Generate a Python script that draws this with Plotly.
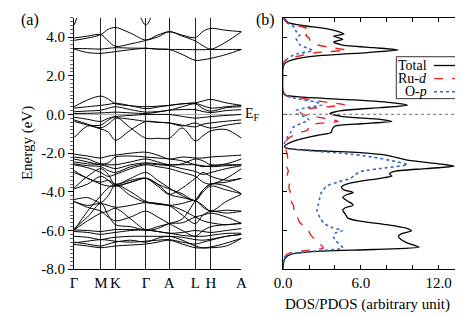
import plotly.graph_objects as go

# ---------------- data ----------------
k_labels = ["Γ", "M", "K", "Γ", "A", "L", "H", "A"]
k_ticks = [0, 27.7, 42.7, 74.3, 98.3, 125.3, 141.3, 173]
# sample positions along the path (high-symmetry points and segment middles)
k_samples = [0, 13.9, 27.7, 35.2, 42.7, 58.5, 74.3, 86.3, 98.3, 111.8, 125.3, 133.3, 141.3, 157.2, 173]

conduction_bands = [
    [4.62, 6.2, 7.0, 7.0, 7.0, 6.2, 4.62, 6.0, 7.0, 7.0, 7.0, 7.0, 7.0, 7.0, 7.0],
    [3.83, 3.95, 4.13, 4.40, 4.50, 4.20, 3.85, 4.10, 4.28, 4.10, 3.97, 4.30, 4.45, 4.35, 4.28],
    [3.95, 4.05, 4.13, 3.80, 3.52, 3.65, 3.83, 4.00, 4.28, 4.05, 3.80, 3.55, 3.38, 3.75, 4.28],
    [3.41, 3.40, 3.38, 3.42, 3.45, 3.43, 3.42, 3.38, 3.36, 3.36, 3.35, 3.35, 3.36, 3.36, 3.36],
    [3.38, 3.20, 3.16, 3.20, 3.25, 3.35, 3.42, 3.38, 3.36, 3.10, 2.80, 2.83, 2.90, 3.10, 3.36],
]

t2g_bands = [
    [0.40, 0.75, 0.95, 0.80, 0.56, 0.45, 0.40, 0.43, 0.47, 0.55, 0.60, 0.70, 0.78, 0.60, 0.47],
    [0.33, 0.40, 0.47, 0.52, 0.58, 0.45, 0.30, 0.38, 0.47, 0.55, 0.58, 0.45, 0.33, 0.40, 0.47],
    [0.14, 0.18, 0.22, 0.32, 0.40, 0.25, 0.12, 0.15, 0.22, 0.40, 0.55, 0.30, 0.17, 0.35, 0.40],
    [0.05, 0.06, 0.08, 0.10, 0.12, 0.08, 0.05, 0.12, 0.22, 0.25, 0.25, 0.15, 0.10, 0.20, 0.25],
    [-0.14, -0.25, -0.36, -0.20, -0.11, -0.05, 0.00, 0.00, 0.00, -0.10, -0.19, -0.15, -0.11, -0.05, 0.00],
    [-0.28, -0.50, -0.69, -0.50, -0.20, -0.25, -0.36, -0.40, -0.44, -0.55, -0.64, -0.50, -0.44, -0.35, -0.28],
    [-0.36, -0.55, -0.75, -0.90, -1.33, -0.80, -0.36, -0.40, -0.44, -0.60, -0.44, -0.60, -0.70, -0.55, -0.44],
    [-1.20, -0.60, -0.55, -0.30, -0.12, -0.70, -1.23, -1.23, -1.23, -0.70, -1.37, -1.10, -0.85, -0.78, -1.23],
]

valence_bands = [
    [-2.05, -2.15, -2.25, -2.15, -2.10, -2.00, -1.95, -2.10, -2.30, -2.20, -2.25, -2.25, -2.20, -2.15, -2.10],
    [-2.20, -2.30, -2.55, -2.50, -2.20, -2.15, -2.20, -2.25, -2.30, -2.40, -2.60, -2.70, -2.65, -2.55, -2.30],
    [-2.30, -2.45, -2.60, -2.60, -2.60, -2.45, -2.30, -2.45, -2.60, -2.55, -2.30, -2.40, -2.60, -2.60, -2.60],
    [-2.45, -2.55, -2.60, -2.70, -2.80, -2.60, -2.50, -2.55, -2.60, -2.60, -2.60, -2.65, -2.70, -2.65, -2.60],
    [-2.55, -2.65, -2.70, -2.90, -3.00, -2.70, -2.55, -2.60, -2.65, -2.80, -2.95, -3.10, -3.00, -2.80, -2.65],
    [-2.60, -2.75, -3.00, -3.20, -3.10, -2.80, -2.60, -2.70, -2.80, -3.00, -3.20, -3.50, -3.60, -3.30, -2.80],
    [-3.80, -3.20, -2.80, -3.10, -3.63, -3.30, -3.00, -3.40, -3.80, -4.20, -4.45, -3.90, -3.60, -3.50, -3.30],
    [-3.85, -3.60, -3.20, -3.40, -3.70, -3.50, -3.30, -3.60, -3.85, -4.10, -4.45, -4.00, -3.70, -3.90, -4.10],
    [-4.40, -4.30, -4.55, -4.20, -3.65, -4.00, -4.50, -4.60, -4.70, -4.60, -4.45, -4.80, -5.00, -4.95, -5.00],
    [-4.50, -4.70, -4.60, -4.70, -4.80, -4.70, -4.55, -4.65, -4.70, -4.95, -5.30, -5.50, -5.60, -5.70, -5.60],
    [-5.90, -5.30, -4.60, -5.20, -5.70, -5.80, -5.97, -5.80, -5.64, -5.40, -4.45, -3.90, -3.60, -3.70, -4.10],
    [-5.97, -5.50, -5.10, -5.00, -4.85, -5.40, -5.97, -5.90, -5.64, -5.60, -5.30, -5.20, -5.10, -5.30, -5.64],
    [-5.97, -6.00, -6.05, -6.00, -5.95, -5.95, -5.97, -6.05, -6.14, -6.10, -6.00, -6.05, -6.10, -6.00, -5.90],
    [-6.05, -6.10, -6.20, -6.15, -6.10, -6.00, -5.97, -6.05, -6.14, -6.25, -6.30, -6.30, -6.25, -6.15, -6.14],
    [-6.30, -6.35, -6.47, -6.40, -6.35, -6.30, -6.30, -6.30, -6.30, -6.35, -6.47, -6.50, -6.45, -6.30, -6.20],
    [-6.64, -6.55, -6.47, -6.50, -6.55, -6.60, -6.55, -6.50, -6.47, -6.60, -6.70, -6.60, -6.50, -6.30, -6.20],
    [-6.72, -6.80, -6.89, -6.85, -6.80, -6.75, -6.70, -6.60, -6.50, -6.70, -6.89, -6.90, -6.85, -6.65, -6.40],
    [-6.60, -6.70, -6.80, -6.70, -6.60, -6.50, -6.60, -6.40, -6.30, -6.50, -6.80, -6.90, -6.89, -6.80, -6.40],
    [-6.00, -5.00, -4.20, -3.80, -3.63, -4.20, -4.55, -4.60, -4.71, -5.20, -5.64, -5.20, -5.00, -5.10, -5.00],
    [-3.00, -3.30, -3.60, -3.70, -3.70, -3.50, -3.29, -3.60, -4.13, -4.30, -4.46, -4.70, -5.00, -4.50, -4.13],
    [-2.90, -3.30, -3.50, -3.40, -3.60, -3.40, -3.30, -3.70, -4.13, -3.80, -3.30, -3.00, -3.20, -3.40, -3.30],
    [-4.50, -4.80, -5.00, -5.30, -5.50, -5.30, -5.00, -5.30, -5.64, -6.00, -6.30, -6.00, -5.80, -5.70, -5.64],
]

energy_ticks = [-8, -6, -4, -2, 0, 2, 4]
energy_ticktext = ["-8.0", "-6.0", "-4.0", "-2.0", "0.0", "2.0", "4.0"]

total_E = [5.0, 4.75, 4.6, 4.45, 4.3, 4.16, 4.05, 3.88, 3.75, 3.6, 3.45, 3.33, 3.2, 3.05, 2.9, 2.75, 2.6, 2.4,
           1.2, 1.0, 0.9, 0.75, 0.6, 0.48, 0.35, 0.2, 0.05, -0.1, -0.25, -0.36, -0.48, -0.6, -0.75, -0.93, -1.1,
           -1.3, -1.5, -1.65, -1.75, -1.85, -2.0, -2.15, -2.35, -2.55, -2.67, -2.8, -2.95, -3.07, -3.18, -3.3,
           -3.45, -3.6, -3.75, -3.9, -4.03, -4.15, -4.28, -4.45, -4.6, -4.7, -4.82, -4.95, -5.15, -5.36, -5.5,
           -5.7, -5.9, -6.02, -6.15, -6.3, -6.47, -6.65, -6.86, -6.98, -7.1, -7.23, -7.4, -7.6, -8.0]
total_D = [0.05, 0.4, 1.5, 3.2, 4.2, 4.7, 3.9, 4.6, 3.9, 4.5, 7.0, 8.9, 6.5, 3.0, 1.2, 0.4, 0.1, 0.0,
           0.0, 0.2, 1.5, 5.5, 8.5, 9.6, 7.5, 4.5, 3.6, 4.5, 7.5, 8.4, 6.0, 4.0, 3.8, 3.7, 2.5,
           1.2, 0.4, 0.1, 0.3, 2.0, 6.5, 8.3, 9.5, 12.0, 13.2, 11.0, 8.5, 8.2, 8.4, 7.5,
           6.0, 4.9, 4.5, 4.7, 5.4, 4.9, 4.6, 4.9, 5.3, 5.4, 4.8, 4.6, 4.8, 5.0, 5.8,
           8.0, 9.6, 9.9, 9.2, 8.9, 9.1, 9.6, 10.5, 7.0, 2.0, 0.6, 0.2, 0.05, 0.0]

rud_E = [5.0, 4.75, 4.55, 4.4, 4.25, 4.1, 3.95, 3.8, 3.6, 3.45, 3.33, 3.2, 3.05, 2.9, 2.75, 2.5,
         1.1, 0.95, 0.8, 0.65, 0.5, 0.4, 0.3, 0.15, 0.0, -0.15, -0.36, -0.48, -0.6, -0.8, -0.95, -1.15,
         -1.35, -1.6, -1.8, -2.0, -2.3, -2.6, -2.9, -3.2, -3.5, -3.8, -4.1, -4.4, -4.7, -5.0, -5.3,
         -5.6, -5.9, -6.2, -6.5, -6.9, -7.05, -7.2, -7.4, -8.0]
rud_D = [0.0, 0.3, 1.4, 2.0, 2.1, 1.75, 2.0, 2.1, 2.6, 3.8, 4.9, 2.6, 1.4, 0.5, 0.1, 0.0,
         0.0, 0.3, 1.8, 3.2, 4.75, 3.5, 2.0, 1.3, 1.5, 2.8, 4.25, 2.5, 2.0, 1.9, 1.2, 0.6,
         0.25, 0.1, 0.2, 0.3, 0.35, 0.2, 0.4, 0.3, 0.5, 0.45, 0.6, 0.55, 0.8, 0.85, 1.1,
         1.3, 1.9, 2.1, 2.5, 3.1, 1.5, 0.4, 0.1, 0.0]

op_E = [5.0, 4.75, 4.5, 4.3, 4.1, 3.95, 3.8, 3.6, 3.4, 3.3, 3.15, 3.0, 2.8, 2.6,
        1.1, 0.95, 0.8, 0.65, 0.5, 0.35, 0.2, 0.05, -0.1, -0.28, -0.45, -0.65, -0.9, -1.2, -1.5,
        -1.7, -1.85, -2.0, -2.2, -2.45, -2.6, -2.75, -2.95, -3.1, -3.3, -3.5, -3.69, -3.9, -4.1,
        -4.4, -4.7, -4.95, -5.2, -5.4, -5.65, -5.85, -6.0, -6.15, -6.35, -6.55, -6.9, -7.05, -7.2,
        -7.4, -8.0]
op_D = [0.0, 0.3, 0.9, 1.0, 1.3, 1.0, 1.1, 1.3, 2.0, 2.3, 1.2, 0.6, 0.2, 0.0,
        0.0, 0.3, 1.2, 2.5, 3.0, 1.8, 1.0, 1.0, 1.6, 2.0, 1.4, 0.8, 0.6, 0.3, 0.1,
        0.2, 1.5, 4.5, 6.9, 8.8, 9.6, 8.0, 6.0, 5.6, 5.2, 4.2, 3.4, 3.1, 2.9,
        2.8, 2.7, 2.6, 2.75, 2.9, 3.2, 3.8, 4.6, 4.0, 3.9, 4.1, 4.6, 2.8, 0.6,
        0.1, 0.0]

dos_ticks = [0, 6, 12]
dos_ticktext = ["0.0", "6.0", "12.0"]

# ---------------- figure ----------------
W, H = 463, 316
FONT = "Liberation Serif"
RED = "#e8231e"
BLUE = "#3467c4"

fig = go.Figure()

for band in conduction_bands + t2g_bands + valence_bands:
    fig.add_trace(go.Scatter(x=k_samples, y=band, mode="lines",
                             line=dict(color="black", width=1, shape="spline", smoothing=0.9),
                             showlegend=False, hoverinfo="skip", xaxis="x", yaxis="y"))

fig.add_trace(go.Scatter(x=total_D, y=total_E, mode="lines", name="Total",
                         line=dict(color="black", width=1.3, shape="spline", smoothing=0.6),
                         showlegend=False, xaxis="x2", yaxis="y2"))
fig.add_trace(go.Scatter(x=rud_D, y=rud_E, mode="lines", name="Ru-d",
                         line=dict(color=RED, width=1.4, dash="dash", shape="spline", smoothing=0.6),
                         showlegend=False, xaxis="x2", yaxis="y2"))
fig.add_trace(go.Scatter(x=op_D, y=op_E, mode="lines", name="O-p",
                         line=dict(color=BLUE, width=1.6, dash="dot", shape="spline", smoothing=0.6),
                         showlegend=False, xaxis="x2", yaxis="y2"))

px = lambda v: v / W
py = lambda v: 1 - v / H

ydom = [py(268), py(10)]

fig.update_layout(
    width=W, height=H, autosize=False,
    margin=dict(l=0, r=0, t=0, b=0),
    paper_bgcolor="white", plot_bgcolor="white",
    font=dict(family=FONT, size=15, color="black"),
    xaxis=dict(domain=[px(59), px(232)], range=[0, 173], anchor="y",
               tickmode="array", tickvals=k_ticks, ticktext=k_labels,
               ticks="", showgrid=True, gridcolor="#222", gridwidth=1,
               showline=True, linecolor="black", linewidth=1, zeroline=False,
               tickfont=dict(family=FONT, size=15)),
    yaxis=dict(domain=ydom, range=[-8, 5], anchor="x",
               tickmode="array", tickvals=energy_ticks, ticktext=energy_ticktext,
               ticks="outside", ticklen=5, tickcolor="black",
               minor=dict(dtick=0.2, tick0=0, ticks="outside", ticklen=3, tickcolor="#666"),
               showline=True, linecolor="black", linewidth=1, showgrid=False,
               zeroline=True, zerolinecolor="#aaa", zerolinewidth=1.2,
               tickfont=dict(family=FONT, size=15)),
    xaxis2=dict(domain=[px(275), px(462.5)], range=[0, 14], anchor="y2",
                tickmode="array", tickvals=dos_ticks, ticktext=dos_ticktext,
                ticks="inside", ticklen=4, tickcolor="black", mirror="ticks",
                minor=dict(dtick=2, tick0=0, ticks="inside", ticklen=4, tickcolor="black"),
                showline=True, linecolor="black", linewidth=1, showgrid=False, zeroline=False,
                tickfont=dict(family=FONT, size=15)),
    yaxis2=dict(domain=ydom, range=[-8, 5], anchor="x2",
                tickmode="array", tickvals=energy_ticks, showticklabels=False,
                ticks="inside", ticklen=4, tickcolor="black", mirror="ticks",
                showline=True, linecolor="black", linewidth=1, showgrid=False, zeroline=False),
)

# Fermi level in DOS panel
fig.add_shape(type="line", xref="x2 domain", yref="y2", x0=0, x1=1, y0=0, y1=0,
              line=dict(color="#888", width=1.3, dash="dot"))

# legend box (text then sample line)
fig.add_shape(type="rect", xref="paper", yref="paper",
              x0=px(392), x1=px(462.5), y0=py(93), y1=py(50),
              line=dict(color="black", width=0.8), fillcolor="white")
legend_rows = [("Total", 59, "black", "solid", 1.3),
               ("Ru-<i>d</i>", 72.5, RED, "dash", 1.4),
               ("O-<i>p</i>", 86, BLUE, "dot", 1.6)]
for txt, yy, col, dash, lw in legend_rows:
    fig.add_annotation(x=px(426), y=py(yy), xref="paper", yref="paper", text=txt,
                       showarrow=False, xanchor="right", yanchor="middle",
                       font=dict(family=FONT, size=14))
    fig.add_shape(type="line", xref="paper", yref="paper",
                  x0=px(431), x1=px(454), y0=py(yy), y1=py(yy),
                  line=dict(color=col, width=lw, dash=dash))

# text labels
fig.add_annotation(x=px(2), y=py(12), xref="paper", yref="paper", text="(a)",
                   showarrow=False, xanchor="left", yanchor="middle", font=dict(family=FONT, size=16))
fig.add_annotation(x=px(245), y=py(12), xref="paper", yref="paper", text="(b)",
                   showarrow=False, xanchor="left", yanchor="middle", font=dict(family=FONT, size=16))
fig.add_annotation(x=px(234), y=0, xref="paper", yref="y", text="E<sub>F</sub>",
                   showarrow=False, xanchor="left", yanchor="middle", font=dict(family=FONT, size=14))
fig.add_annotation(x=px(11), y=py(139), xref="paper", yref="paper", text="Energy (eV)",
                   showarrow=False, textangle=-90, xanchor="center", yanchor="middle",
                   font=dict(family=FONT, size=15))
fig.add_annotation(x=px(362), y=py(304), xref="paper", yref="paper", text="DOS/PDOS (arbitrary unit)",
                   showarrow=False, xanchor="center", yanchor="middle", font=dict(family=FONT, size=15))

fig.write_html("out.html")
